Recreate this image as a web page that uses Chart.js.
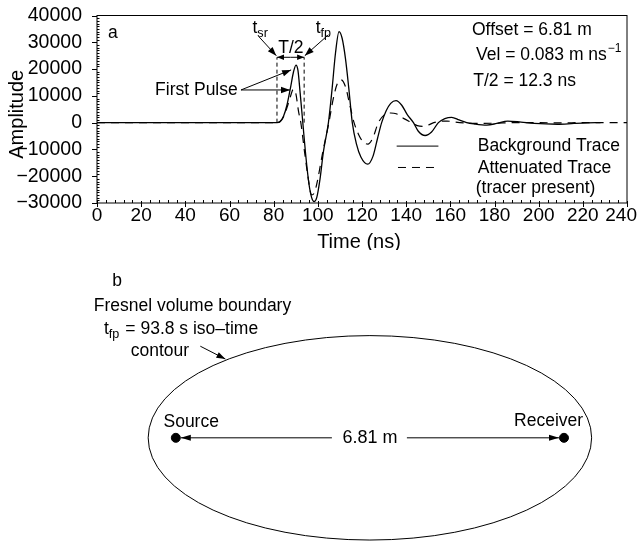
<!DOCTYPE html>
<html>
<head>
<meta charset="utf-8">
<script src="https://cdn.jsdelivr.net/npm/chart.js@4.4.1/dist/chart.umd.min.js"></script>
<style>
  html, body { margin: 0; padding: 0; background: #fff; }
  #wrapA { position: absolute; left: 0; top: 0; width: 638px; height: 250px; }
  #wrapB { position: absolute; left: 0; top: 250px; width: 638px; height: 298px; }
</style>
</head>
<body>
<div id="wrapA"><canvas id="traces"></canvas></div>
<div id="wrapB"><canvas id="fresnel"></canvas></div>
<script>
const FONT = '"Liberation Sans", Arial, sans-serif';
const NOTE = 17.5;

// panel a: traces (time in ns, amplitude)
const bgTime = [0, 81.5, 83, 84.5, 86, 87.5, 89, 90.1, 91, 92, 93.2, 94.5, 96, 97.2, 98.3, 99.5, 101, 102.5, 104.8,
  106.5, 108, 109.6, 111, 112.5, 114, 115.6, 117.5, 119.5, 122.6, 125, 127, 128.9, 131, 133, 135.4, 138, 140.5,
  143.3, 145.5, 148.6, 151.5, 154.6, 157.5, 160.6, 164, 167.4, 171, 176.5, 181, 186, 192, 198, 208.5, 216, 222, 228];
const bgAmp = [0, 0, 500, 2500, 6500, 12500, 19000, 21500, 19500, 11000, 0, -12000, -23000, -28000, -29500, -28000,
  -21000, -11000, 0, 13000, 26000, 34000, 31500, 24000, 13000, 0, -8000, -12800, -15500, -12500, -6000, 0, 4500,
  7200, 8200, 6500, 3000, 0, -3200, -4800, -3500, 0, 1500, 2000, 1000, 0, -500, -900, -300, 600, 200, -300, -600,
  -300, -100, 0];

const attTime = [0, 81.5, 83, 84.5, 86, 87.5, 88.9, 90, 91.3, 92.3, 94, 95.5, 97.2, 98.5, 100, 102, 105, 107, 108.8,
  110.5, 112.5, 114.5, 116.4, 118.5, 120.5, 122.7, 125, 127.4, 130, 133, 135.5, 139, 142.5, 145, 147.5, 150, 152.5,
  155.5, 158.5, 162, 166, 172, 180, 190, 200, 210, 220, 240];
const attAmp = [0, 0, 400, 2200, 5500, 9500, 12500, 11000, 4000, 0, -11000, -20000, -27000, -26000, -21000, -12000,
  0, 9000, 14500, 16000, 13500, 6500, 0, -4500, -7200, -8000, -5500, 0, 2800, 3600, 3300, 1500, 0, -1100, -1400,
  -900, 0, 500, 600, 200, -100, -300, -200, 0, 0, -100, 0, 0];

const timeTicks = [0, 20, 40, 60, 80, 100, 120, 140, 160, 180, 200, 220, 240];

const tSr = 81.5;   // start of first pulse
const tFp = 93.8;   // first-pulse time
const bracketAmp = 24400;

const legendLabels = ['Background Trace', 'Attenuated Trace', '(tracer present)'];
const infoLines = ['Offset = 6.81 m', 'Vel = 0.083 m ns', 'T/2 = 12.3 ns'];

// panel b: geometry in metres
const antennaX = [0, 6.81];
const antennaNames = ['Source', 'Receiver'];
const ellipseCentre = 3.405;
const ellipseSemiA = 3.89;
const ellipseSemiB = 1.83;

function pairs(xs, ys) { return xs.map((v, i) => ({ x: v, y: ys[i] })); }

function arrow(ctx, x1, y1, x2, y2, len = 9, half = 3.2) {
  const ang = Math.atan2(y2 - y1, x2 - x1);
  ctx.beginPath(); ctx.moveTo(x1, y1); ctx.lineTo(x2, y2); ctx.stroke();
  ctx.beginPath();
  ctx.moveTo(x2, y2);
  ctx.lineTo(x2 - len * Math.cos(ang) + half * Math.sin(ang), y2 - len * Math.sin(ang) - half * Math.cos(ang));
  ctx.lineTo(x2 - len * Math.cos(ang) - half * Math.sin(ang), y2 - len * Math.sin(ang) + half * Math.cos(ang));
  ctx.closePath(); ctx.fill();
}

function txt(ctx, s, x, y, size, align = 'left') {
  ctx.font = size + 'px ' + FONT;
  ctx.textAlign = align; ctx.textBaseline = 'middle';
  ctx.fillText(s, x, y);
  return ctx.measureText(s).width;
}

function subText(ctx, main, sub, x, y, size, gap = 0) {
  const w = txt(ctx, main, x, y, size);
  return w + txt(ctx, sub, x + w + gap, y + 5, size * 0.72);
}

const traceDecor = {
  id: 'traceDecor',
  afterDraw(chart) {
    const { ctx, chartArea: a, scales: { x, y } } = chart;
    const X = v => x.getPixelForValue(v), Y = v => y.getPixelForValue(v);
    ctx.save();
    ctx.strokeStyle = '#000'; ctx.fillStyle = '#000'; ctx.lineWidth = 1;
    ctx.strokeRect(a.left, a.top, a.right - a.left, a.bottom - a.top);

    // tick marks
    ctx.beginPath();
    for (let v = -30000; v <= 40000; v += 1000) {
      const py = Math.round(Y(v)) + 0.5;
      if (v % 10000 === 0) { ctx.moveTo(a.left - 5, py); ctx.lineTo(a.left, py); }
      else { ctx.moveTo(a.left, py); ctx.lineTo(a.left + 2.5, py); }
    }
    for (let t = 0; t <= 240; t += 4) {
      const px = Math.round(X(t)) + 0.5;
      if (t % 20 === 0) { ctx.moveTo(px, a.bottom - 2); ctx.lineTo(px, a.bottom + 4); }
      else { ctx.moveTo(px, a.bottom - 3); ctx.lineTo(px, a.bottom); }
    }
    ctx.stroke();

    // time tick labels, last one kept inside the canvas
    ctx.font = '19px ' + FONT;
    timeTicks.forEach(t => {
      const s = String(t);
      const half = ctx.measureText(s).width / 2;
      txt(ctx, s, Math.min(X(t), chart.width - half - 1), a.bottom + 13, 19, 'center');
    });

    // axis titles
    txt(ctx, 'Time (ns)', (a.left + a.right) / 2 - 3, a.bottom + 39, 20, 'center');
    ctx.save();
    ctx.translate(a.left - 80, (a.top + a.bottom) / 2 + 5);
    ctx.rotate(-Math.PI / 2);
    txt(ctx, 'Amplitude', 0, 0, 20, 'center');
    ctx.restore();

    txt(ctx, 'a', X(5), Y(33300), NOTE);

    // T/2 bracket
    ctx.save();
    ctx.setLineDash([4, 3]);
    ctx.beginPath();
    ctx.moveTo(X(tSr), Y(0)); ctx.lineTo(X(tSr), Y(bracketAmp));
    ctx.moveTo(X(tFp), Y(0)); ctx.lineTo(X(tFp), Y(bracketAmp));
    ctx.stroke();
    ctx.restore();
    const mid = (X(tSr) + X(tFp)) / 2;
    arrow(ctx, mid, Y(bracketAmp), X(tSr), Y(bracketAmp), 7, 2.8);
    arrow(ctx, mid, Y(bracketAmp), X(tFp), Y(bracketAmp), 7, 2.8);
    txt(ctx, 'T/2', X(87.8), Y(27900), NOTE, 'center');

    subText(ctx, 't', 'sr', X(70.4), Y(35200), NOTE);
    arrow(ctx, X(73.2), Y(32200), X(tSr - 0.3), Y(bracketAmp + 600));
    subText(ctx, 't', 'fp', X(99.0), Y(35200), NOTE);
    arrow(ctx, X(104.8), Y(32800), X(tFp + 0.3), Y(bracketAmp + 600));

    // first pulse labels
    txt(ctx, 'First Pulse', X(26.3), Y(12000), NOTE);
    arrow(ctx, X(65.2), Y(12200), X(87.9), Y(19700));
    arrow(ctx, X(65.2), Y(12200), X(87.4), Y(12200));

    // info text
    txt(ctx, infoLines[0], X(169.8), Y(34400), NOTE);
    const w = txt(ctx, infoLines[1], X(171.6), Y(25300), NOTE);
    txt(ctx, '\u22121', X(171.6) + w + 1, Y(25300) - 6, 12);
    txt(ctx, infoLines[2], X(170.4), Y(15300), NOTE);

    // legend
    ctx.beginPath(); ctx.moveTo(X(135.7), Y(-8760)); ctx.lineTo(X(154.6), Y(-8760)); ctx.stroke();
    ctx.save(); ctx.setLineDash([8, 6]);
    ctx.beginPath(); ctx.moveTo(X(136.3), Y(-16740)); ctx.lineTo(X(155.3), Y(-16740)); ctx.stroke();
    ctx.restore();
    txt(ctx, legendLabels[0], X(172.4), Y(-8760), NOTE);
    txt(ctx, legendLabels[1], X(172.4), Y(-16900), NOTE);
    txt(ctx, legendLabels[2], X(171.5), Y(-24500), NOTE);
    ctx.restore();
  }
};

new Chart(document.getElementById('traces'), {
  type: 'scatter',
  data: {
    datasets: [
      { label: legendLabels[0], data: pairs(bgTime, bgAmp), showLine: true, borderColor: '#000',
        borderWidth: 1.3, pointRadius: 0, cubicInterpolationMode: 'monotone' },
      { label: legendLabels[1], data: pairs(attTime, attAmp), showLine: true, borderColor: '#000',
        borderWidth: 1.2, borderDash: [8, 6], pointRadius: 0, cubicInterpolationMode: 'monotone' }
    ]
  },
  options: {
    responsive: true,
    maintainAspectRatio: false,
    animation: false,
    layout: { padding: { top: 15.5, right: 11, left: 0, bottom: 0 } },
    plugins: { legend: { display: false }, tooltip: { enabled: false } },
    scales: {
      x: {
        type: 'linear', min: 0, max: 240,
        afterFit: s => { s.height = 47; s.paddingLeft = 0; s.paddingRight = 0; },
        grid: { display: false, drawTicks: false }, border: { display: false },
        ticks: { display: false, stepSize: 20 }
      },
      y: {
        min: -30000, max: 40000,
        afterFit: s => { s.width = 97; s.paddingTop = 0; s.paddingBottom = 0; },
        grid: { display: false, drawTicks: false }, border: { display: false },
        ticks: { stepSize: 10000, autoSkip: false, padding: 15, color: '#000', font: { family: FONT, size: 19.5 },
          callback: v => v < 0 ? '\u2212' + Math.abs(v) : String(v) }
      }
    }
  },
  plugins: [traceDecor]
});

const fresnelDecor = {
  id: 'fresnelDecor',
  beforeDatasetsDraw(chart) {
    const { ctx, scales: { x, y } } = chart;
    const X = v => x.getPixelForValue(v), Y = v => y.getPixelForValue(v);
    ctx.save();
    ctx.strokeStyle = '#000'; ctx.fillStyle = '#000'; ctx.lineWidth = 1;
    ctx.beginPath();
    ctx.ellipse(X(ellipseCentre), Y(0), X(ellipseCentre + ellipseSemiA) - X(ellipseCentre),
      Y(0) - Y(ellipseSemiB), 0, 0, Math.PI * 2);
    ctx.stroke();

    const midX = X((antennaX[0] + antennaX[1]) / 2);
    arrow(ctx, midX - 38, Y(0), X(antennaX[0]) + 5, Y(0), 10, 3);
    arrow(ctx, midX + 37, Y(0), X(antennaX[1]) - 5, Y(0), 10, 3);
    txt(ctx, antennaX[1].toFixed(2) + ' m', midX, Y(0), 18, 'center');

    txt(ctx, antennaNames[0], X(0.27), Y(0.28), NOTE, 'center');
    txt(ctx, antennaNames[1], X(6.54), Y(0.29), NOTE, 'center');

    txt(ctx, 'b', X(-1.03), Y(2.8), NOTE, 'center');
    txt(ctx, 'Fresnel volume boundary', X(-1.44), Y(2.35), NOTE);
    const w = subText(ctx, 't', 'fp', X(-1.26), Y(1.94), NOTE);
    txt(ctx, '= 93.8 s iso\u2013time', X(-1.26) + w + 6, Y(1.94), NOTE);
    txt(ctx, 'contour', X(-0.79), Y(1.56), NOTE);
    arrow(ctx, X(0.43), Y(1.64), X(0.87), Y(1.41), 9, 3);
    ctx.restore();
  }
};

new Chart(document.getElementById('fresnel'), {
  type: 'scatter',
  data: {
    datasets: [{ data: pairs(antennaX, [0, 0]), pointRadius: 4.5, backgroundColor: '#000', borderColor: '#000' }]
  },
  options: {
    responsive: true,
    maintainAspectRatio: false,
    animation: false,
    layout: { padding: 0 },
    plugins: { legend: { display: false }, tooltip: { enabled: false } },
    scales: {
      x: { type: 'linear', min: -2.988, max: 8.012, display: false },
      y: { min: -1.874, max: 3.264, display: false }
    }
  },
  plugins: [fresnelDecor]
});
</script>
</body>
</html>
